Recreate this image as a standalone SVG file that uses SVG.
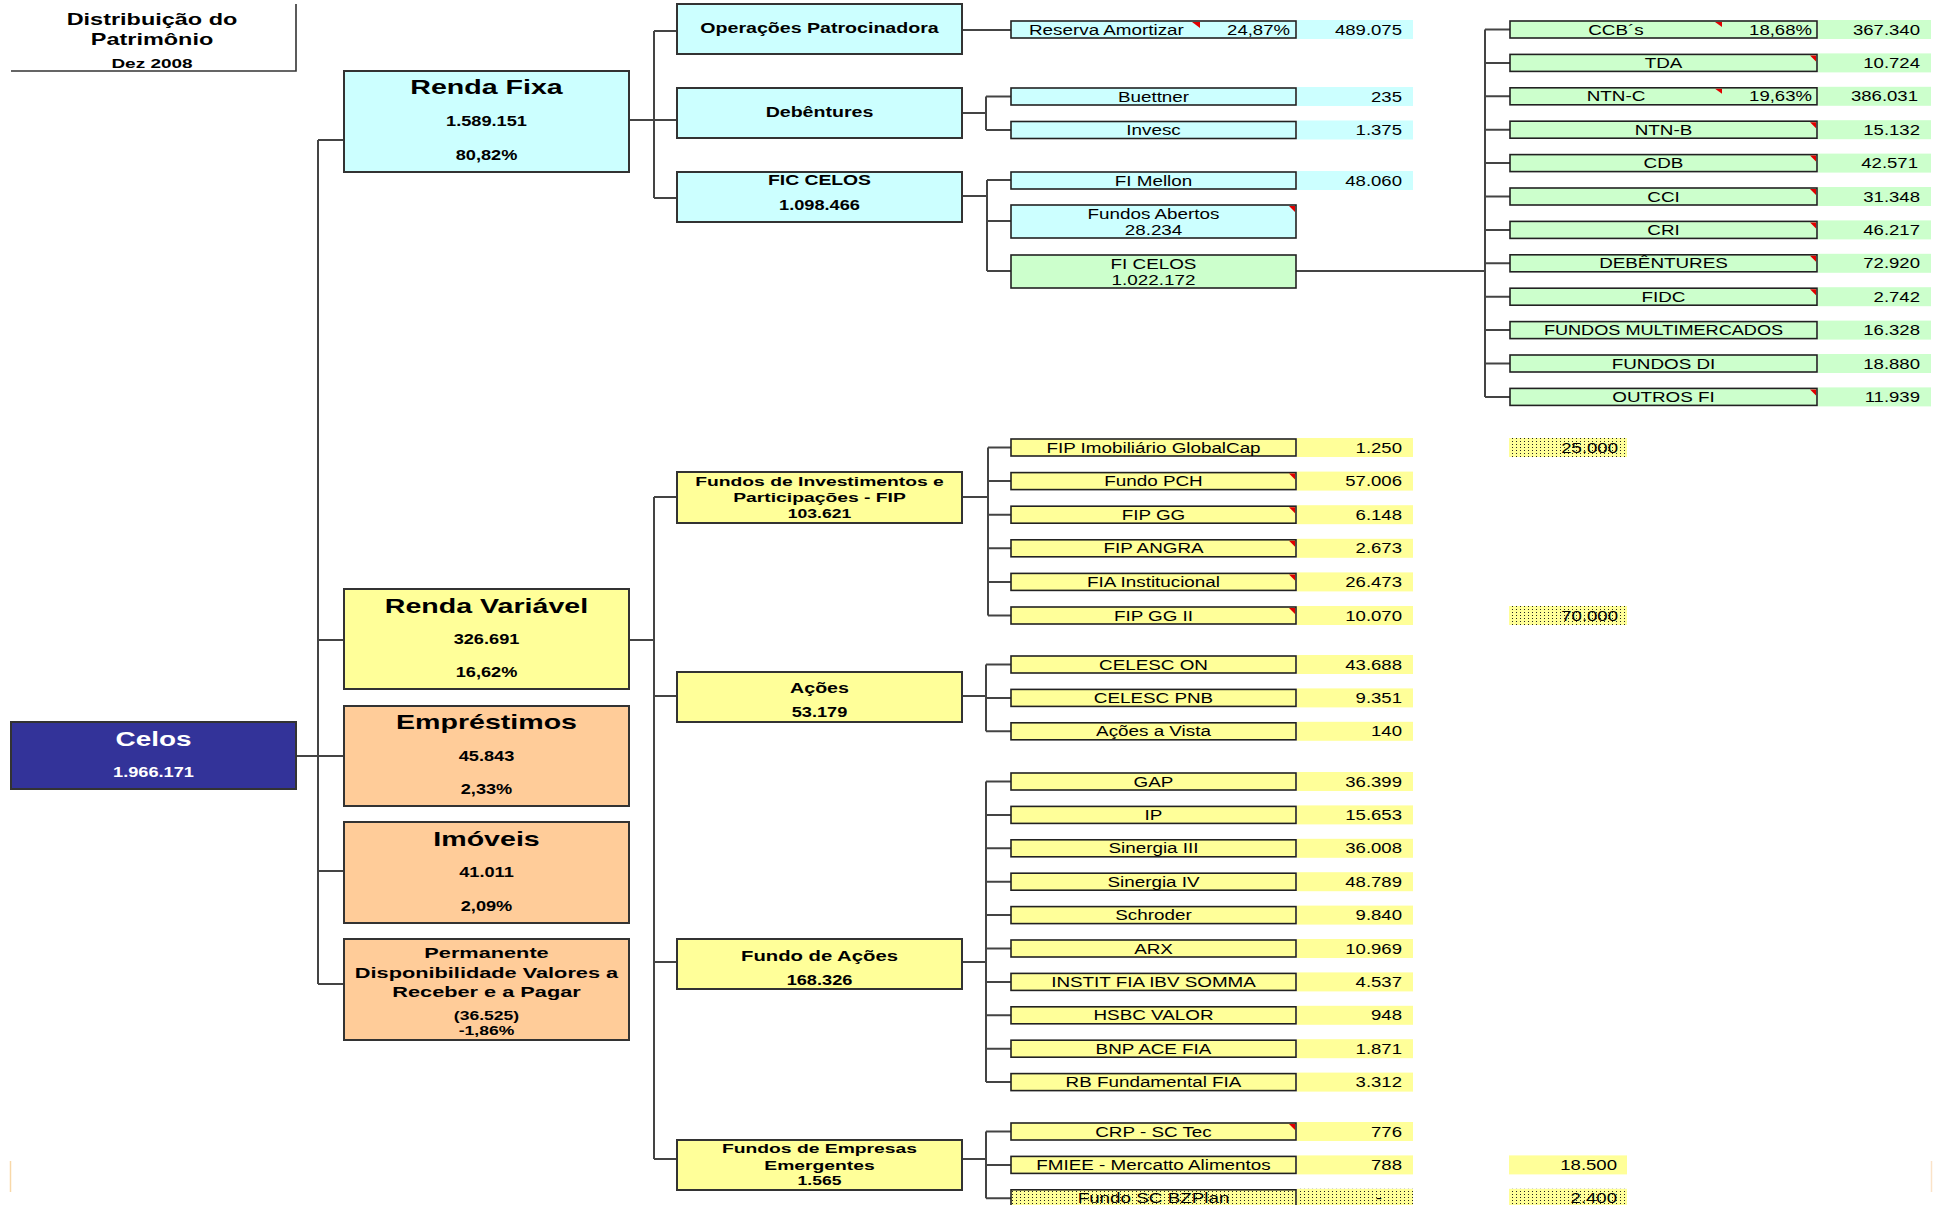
<svg xmlns="http://www.w3.org/2000/svg" width="1943" height="1205" viewBox="0 0 1943 1205">
<defs>
<style>
text{font-family:"Liberation Sans",Arial,sans-serif;fill:#000}
.bx{stroke:#333;stroke-width:2}
.lf{stroke:#222;stroke-width:1.6}
.cy{fill:#CCFFFF}.yl{fill:#FFFF99}.gr{fill:#CCFFCC}.or{fill:#FFCC99}.bl{fill:#333399}.dt{fill:url(#dots)}
.cn{stroke:#444;stroke-width:2;fill:none}
.tri{fill:#E00000}
.h{font-weight:700;font-size:20px;text-anchor:middle}
.m{font-weight:700;font-size:14px;text-anchor:middle}
.ms{font-weight:700;font-size:13.5px;text-anchor:middle}
.n{font-weight:700;font-size:14px;text-anchor:middle}
.t{font-size:14.5px;text-anchor:middle}
.ts{font-size:14.5px;text-anchor:start}
.tv{font-size:14.5px;text-anchor:end}
.w{fill:#fff}
</style>
<pattern id="dots" width="4" height="3" patternUnits="userSpaceOnUse"><rect width="4" height="3" fill="#FFFF99"/><rect width="1" height="1" fill="#222"/></pattern>
</defs>
<rect width="1943" height="1205" fill="#fff"/>

<g id="title">
<path d="M11,71 H296 V4" fill="none" stroke="#333" stroke-width="1.6"/>
<text class="m" style="font-size:16.3px" transform="translate(152,25) scale(1.44,1)">Distribuição do</text>
<text class="m" style="font-size:16.3px" transform="translate(152,45) scale(1.44,1)">Patrimônio</text>
<text class="m" style="font-size:13px" transform="translate(152,68) scale(1.46,1)">Dez 2008</text>
</g>

<g id="connectors" class="cn">
<path d="M318,140 V984 M318,140 H344 M318,640 H344 M296,756 H344 M318,871 H344 M318,984 H344"/>
<path d="M629,120 H654 M654,31 V198 M654,31 H677 M654,120 H677 M654,198 H677"/>
<path d="M962,30 H1011"/>
<path d="M962,113 H986 M986,96.5 V130 M986,96.5 H1011 M986,130 H1011"/>
<path d="M962,196 H987 M987,180 V271 M987,180 H1011 M987,221 H1011 M987,271 H1011"/>
<path d="M1296,271 H1485 M1485,29.5 V396.9 M1485,29.5 H1510 M1485,62.9 H1510 M1485,96.3 H1510 M1485,129.7 H1510 M1485,163.1 H1510 M1485,196.5 H1510 M1485,229.9 H1510 M1485,263.3 H1510 M1485,296.7 H1510 M1485,330.1 H1510 M1485,363.5 H1510 M1485,396.9 H1510"/>
<path d="M629,640 H654 M654,497 V1159 M654,497 H677 M654,696 H677 M654,962 H677 M654,1159 H677"/>
<path d="M962,497 H988 M988,447.5 V615.5 M988,447.5 H1011 M988,481.1 H1011 M988,514.7 H1011 M988,548.3 H1011 M988,581.9 H1011 M988,615.5 H1011"/>
<path d="M962,696 H986 M986,664.5 V731.3 M986,664.5 H1011 M986,697.9 H1011 M986,731.3 H1011"/>
<path d="M962,962 H986 M986,781.5 V1082.1 M986,781.5 H1011 M986,814.9 H1011 M986,848.3 H1011 M986,881.7 H1011 M986,915.1 H1011 M986,948.5 H1011 M986,981.9 H1011 M986,1015.3 H1011 M986,1048.7 H1011 M986,1082.1 H1011"/>
<path d="M962,1159 H986 M986,1131.5 V1198.3 M986,1131.5 H1011 M986,1164.9 H1011 M986,1198.3 H1011"/>
</g>

<g id="celos">
<rect class="bx bl" x="11" y="722" width="285" height="67"/>
<text class="h w" style="font-size:21px" transform="translate(153.5,746) scale(1.33,1)">Celos</text>
<text class="n w" transform="translate(153.5,777) scale(1.3,1)">1.966.171</text>
</g>

<g id="renda-fixa">
<rect class="bx cy" x="344" y="71" width="285" height="101"/>
<text class="h" transform="translate(486.5,94) scale(1.43,1)">Renda Fixa</text>
<text class="n" transform="translate(486.5,126) scale(1.3,1)">1.589.151</text>
<text class="n" transform="translate(486.5,160) scale(1.3,1)">80,82%</text>
</g>
<g id="renda-variavel">
<rect class="bx yl" x="344" y="589" width="285" height="100"/>
<text class="h" transform="translate(486.5,613) scale(1.43,1)">Renda Variável</text>
<text class="n" transform="translate(486.5,644) scale(1.3,1)">326.691</text>
<text class="n" transform="translate(486.5,677) scale(1.3,1)">16,62%</text>
</g>
<g id="emprestimos">
<rect class="bx or" x="344" y="706" width="285" height="100"/>
<text class="h" transform="translate(486.5,729) scale(1.43,1)">Empréstimos</text>
<text class="n" transform="translate(486.5,761) scale(1.3,1)">45.843</text>
<text class="n" transform="translate(486.5,794) scale(1.3,1)">2,33%</text>
</g>
<g id="imoveis">
<rect class="bx or" x="344" y="822" width="285" height="101"/>
<text class="h" transform="translate(486.5,846) scale(1.43,1)">Imóveis</text>
<text class="n" transform="translate(486.5,877) scale(1.3,1)">41.011</text>
<text class="n" transform="translate(486.5,911) scale(1.3,1)">2,09%</text>
</g>
<g id="permanente">
<rect class="bx or" x="344" y="939" width="285" height="101"/>
<text class="m" style="font-size:14.5px" transform="translate(486.5,958) scale(1.5,1)">Permanente</text>
<text class="m" style="font-size:14.5px" transform="translate(486.5,978) scale(1.5,1)">Disponibilidade Valores a</text>
<text class="m" style="font-size:14.5px" transform="translate(486.5,997) scale(1.5,1)">Receber e a Pagar</text>
<text class="n" style="font-size:13.5px" transform="translate(486.5,1020) scale(1.3,1)">(36.525)</text>
<text class="n" style="font-size:13.5px" transform="translate(486.5,1035) scale(1.3,1)">-1,86%</text>
</g>

<g id="operacoes-patrocinadora">
<rect class="bx cy" x="677" y="4" width="285" height="50"/>
<text class="m" transform="translate(819.5,33) scale(1.4,1)">Operações Patrocinadora</text>
</g>
<g id="debentures">
<rect class="bx cy" x="677" y="88" width="285" height="50"/>
<text class="m" transform="translate(819.5,117) scale(1.4,1)">Debêntures</text>
</g>
<g id="fic-celos">
<rect class="bx cy" x="677" y="172" width="285" height="50"/>
<text class="m" transform="translate(819.5,185) scale(1.38,1)">FIC CELOS</text>
<text class="n" transform="translate(819.5,210) scale(1.3,1)">1.098.466</text>
</g>
<g id="fip">
<rect class="bx yl" x="677" y="472" width="285" height="51"/>
<text class="ms" transform="translate(819.5,486) scale(1.43,1)">Fundos de Investimentos e</text>
<text class="ms" transform="translate(819.5,502) scale(1.43,1)">Participações - FIP</text>
<text class="ms" transform="translate(819.5,518) scale(1.3,1)">103.621</text>
</g>
<g id="acoes">
<rect class="bx yl" x="677" y="672" width="285" height="50"/>
<text class="m" transform="translate(819.5,693) scale(1.4,1)">Ações</text>
<text class="n" transform="translate(819.5,717) scale(1.3,1)">53.179</text>
</g>
<g id="fundo-de-acoes">
<rect class="bx yl" x="677" y="939" width="285" height="50"/>
<text class="m" transform="translate(819.5,961) scale(1.45,1)">Fundo de Ações</text>
<text class="n" transform="translate(819.5,985) scale(1.3,1)">168.326</text>
</g>
<g id="fundos-emergentes">
<rect class="bx yl" x="677" y="1140" width="285" height="50"/>
<text class="ms" transform="translate(819.5,1153) scale(1.43,1)">Fundos de Empresas</text>
<text class="ms" transform="translate(819.5,1170) scale(1.43,1)">Emergentes</text>
<text class="ms" transform="translate(819.5,1185) scale(1.3,1)">1.565</text>
</g>

<!-- Renda Fixa leaves -->
<g id="reserva-amortizar">
<rect class="lf cy" x="1011" y="21" width="285" height="17"/>
<polygon class="tri" points="1192,22 1200,22 1200,28"/>
<text class="ts" transform="translate(1029,34.5) scale(1.3,1)">Reserva Amortizar</text>
<text class="tv" transform="translate(1290,34.5) scale(1.28,1)">24,87%</text>
<rect class="cy" x="1297" y="20" width="116" height="19"/>
<text class="tv" transform="translate(1402,34.5) scale(1.28,1)">489.075</text>
</g>
<g id="buettner">
<rect class="lf cy" x="1011" y="88" width="285" height="17"/>
<text class="t" transform="translate(1153.5,101.5) scale(1.3,1)">Buettner</text>
<rect class="cy" x="1297" y="87" width="116" height="19"/>
<text class="tv" transform="translate(1402,101.5) scale(1.28,1)">235</text>
</g>
<g id="invesc">
<rect class="lf cy" x="1011" y="121.5" width="285" height="17"/>
<text class="t" transform="translate(1153.5,135) scale(1.3,1)">Invesc</text>
<rect class="cy" x="1297" y="120.5" width="116" height="19"/>
<text class="tv" transform="translate(1402,135) scale(1.28,1)">1.375</text>
</g>
<g id="fi-mellon">
<rect class="lf cy" x="1011" y="172" width="285" height="17"/>
<text class="t" transform="translate(1153.5,185.5) scale(1.3,1)">FI Mellon</text>
<rect class="cy" x="1297" y="171" width="116" height="19"/>
<text class="tv" transform="translate(1402,185.5) scale(1.28,1)">48.060</text>
</g>
<g id="fundos-abertos">
<rect class="lf cy" x="1011" y="205" width="285" height="33"/>
<polygon class="tri" points="1289,206 1295,206 1295,212"/>
<text class="t" transform="translate(1153.5,218.5) scale(1.3,1)">Fundos Abertos</text>
<text class="t" transform="translate(1153.5,235) scale(1.3,1)">28.234</text>
</g>
<g id="fi-celos">
<rect class="lf gr" x="1011" y="255" width="285" height="33"/>
<text class="t" transform="translate(1153.5,268.5) scale(1.3,1)">FI CELOS</text>
<text class="t" transform="translate(1153.5,285) scale(1.3,1)">1.022.172</text>
</g>

<!-- FI CELOS leaves -->
<g id="ccbs">
<rect class="lf gr" x="1510" y="21" width="307" height="17"/>
<polygon class="tri" points="1715,22 1722,22 1722,27"/>
<text class="t" transform="translate(1616,34.5) scale(1.3,1)">CCB´s</text>
<text class="tv" transform="translate(1812,34.5) scale(1.28,1)">18,68%</text>
<rect class="gr" x="1818" y="20" width="113" height="19"/>
<text class="tv" transform="translate(1920,34.5) scale(1.28,1)">367.340</text>
</g>
<g id="tda">
<rect class="lf gr" x="1510" y="54.4" width="307" height="17"/>
<polygon class="tri" points="1810,55.4 1816,55.4 1816,61.4"/>
<text class="t" transform="translate(1663.5,67.9) scale(1.3,1)">TDA</text>
<rect class="gr" x="1818" y="53.4" width="113" height="19"/>
<text class="tv" transform="translate(1920,67.9) scale(1.28,1)">10.724</text>
</g>
<g id="ntn-c">
<rect class="lf gr" x="1510" y="87.8" width="307" height="17"/>
<polygon class="tri" points="1715,88.8 1722,88.8 1722,93.8"/>
<text class="t" transform="translate(1616,101.3) scale(1.3,1)">NTN-C</text>
<text class="tv" transform="translate(1812,101.3) scale(1.28,1)">19,63%</text>
<rect class="gr" x="1818" y="86.8" width="113" height="19"/>
<text class="tv" transform="translate(1918,101.3) scale(1.28,1)">386.031</text>
</g>
<g id="ntn-b">
<rect class="lf gr" x="1510" y="121.2" width="307" height="17"/>
<polygon class="tri" points="1810,122.2 1816,122.2 1816,128.2"/>
<text class="t" transform="translate(1663.5,134.7) scale(1.3,1)">NTN-B</text>
<rect class="gr" x="1818" y="120.2" width="113" height="19"/>
<text class="tv" transform="translate(1920,134.7) scale(1.28,1)">15.132</text>
</g>
<g id="cdb">
<rect class="lf gr" x="1510" y="154.6" width="307" height="17"/>
<polygon class="tri" points="1810,155.6 1816,155.6 1816,161.6"/>
<text class="t" transform="translate(1663.5,168.1) scale(1.3,1)">CDB</text>
<rect class="gr" x="1818" y="153.6" width="113" height="19"/>
<text class="tv" transform="translate(1918,168.1) scale(1.28,1)">42.571</text>
</g>
<g id="cci">
<rect class="lf gr" x="1510" y="188" width="307" height="17"/>
<polygon class="tri" points="1810,189 1816,189 1816,195"/>
<text class="t" transform="translate(1663.5,201.5) scale(1.3,1)">CCI</text>
<rect class="gr" x="1818" y="187" width="113" height="19"/>
<text class="tv" transform="translate(1920,201.5) scale(1.28,1)">31.348</text>
</g>
<g id="cri">
<rect class="lf gr" x="1510" y="221.4" width="307" height="17"/>
<polygon class="tri" points="1810,222.4 1816,222.4 1816,228.4"/>
<text class="t" transform="translate(1663.5,234.9) scale(1.3,1)">CRI</text>
<rect class="gr" x="1818" y="220.4" width="113" height="19"/>
<text class="tv" transform="translate(1920,234.9) scale(1.28,1)">46.217</text>
</g>
<g id="debentures-fi">
<rect class="lf gr" x="1510" y="254.8" width="307" height="17"/>
<polygon class="tri" points="1810,255.8 1816,255.8 1816,261.8"/>
<text class="t" transform="translate(1663.5,268.3) scale(1.3,1)">DEBÊNTURES</text>
<rect class="gr" x="1818" y="253.8" width="113" height="19"/>
<text class="tv" transform="translate(1920,268.3) scale(1.28,1)">72.920</text>
</g>
<g id="fidc">
<rect class="lf gr" x="1510" y="288.2" width="307" height="17"/>
<polygon class="tri" points="1810,289.2 1816,289.2 1816,295.2"/>
<text class="t" transform="translate(1663.5,301.7) scale(1.3,1)">FIDC</text>
<rect class="gr" x="1818" y="287.2" width="113" height="19"/>
<text class="tv" transform="translate(1920,301.7) scale(1.28,1)">2.742</text>
</g>
<g id="fundos-multimercados">
<rect class="lf gr" x="1510" y="321.6" width="307" height="17"/>
<text class="t" transform="translate(1663.5,335.1) scale(1.25,1)">FUNDOS MULTIMERCADOS</text>
<rect class="gr" x="1818" y="320.6" width="113" height="19"/>
<text class="tv" transform="translate(1920,335.1) scale(1.28,1)">16.328</text>
</g>
<g id="fundos-di">
<rect class="lf gr" x="1510" y="355" width="307" height="17"/>
<text class="t" transform="translate(1663.5,368.5) scale(1.3,1)">FUNDOS DI</text>
<rect class="gr" x="1818" y="354" width="113" height="19"/>
<text class="tv" transform="translate(1920,368.5) scale(1.28,1)">18.880</text>
</g>
<g id="outros-fi">
<rect class="lf gr" x="1510" y="388.4" width="307" height="17"/>
<polygon class="tri" points="1810,389.4 1816,389.4 1816,395.4"/>
<text class="t" transform="translate(1663.5,401.9) scale(1.3,1)">OUTROS FI</text>
<rect class="gr" x="1818" y="387.4" width="113" height="19"/>
<text class="tv" transform="translate(1920,401.9) scale(1.28,1)">11.939</text>
</g>

<!-- FIP leaves -->
<g id="fip-imobiliario">
<rect class="lf yl" x="1011" y="439" width="285" height="17"/>
<text class="t" transform="translate(1153.5,452.5) scale(1.3,1)">FIP Imobiliário GlobalCap</text>
<rect class="yl" x="1297" y="438" width="116" height="19"/>
<text class="tv" transform="translate(1402,452.5) scale(1.28,1)">1.250</text>
<rect class="dt" x="1509" y="438" width="118" height="19"/>
<text class="tv" transform="translate(1618,452.5) scale(1.28,1)">25.000</text>
</g>
<g id="fundo-pch">
<rect class="lf yl" x="1011" y="472.6" width="285" height="17"/>
<polygon class="tri" points="1289,473.6 1295,473.6 1295,479.6"/>
<text class="t" transform="translate(1153.5,486.1) scale(1.3,1)">Fundo PCH</text>
<rect class="yl" x="1297" y="471.6" width="116" height="19"/>
<text class="tv" transform="translate(1402,486.1) scale(1.28,1)">57.006</text>
</g>
<g id="fip-gg">
<rect class="lf yl" x="1011" y="506.2" width="285" height="17"/>
<polygon class="tri" points="1289,507.2 1295,507.2 1295,513.2"/>
<text class="t" transform="translate(1153.5,519.7) scale(1.3,1)">FIP GG</text>
<rect class="yl" x="1297" y="505.2" width="116" height="19"/>
<text class="tv" transform="translate(1402,519.7) scale(1.28,1)">6.148</text>
</g>
<g id="fip-angra">
<rect class="lf yl" x="1011" y="539.8" width="285" height="17"/>
<polygon class="tri" points="1289,540.8 1295,540.8 1295,546.8"/>
<text class="t" transform="translate(1153.5,553.3) scale(1.3,1)">FIP ANGRA</text>
<rect class="yl" x="1297" y="538.8" width="116" height="19"/>
<text class="tv" transform="translate(1402,553.3) scale(1.28,1)">2.673</text>
</g>
<g id="fia-institucional">
<rect class="lf yl" x="1011" y="573.4" width="285" height="17"/>
<polygon class="tri" points="1289,574.4 1295,574.4 1295,580.4"/>
<text class="t" transform="translate(1153.5,586.9) scale(1.3,1)">FIA Institucional</text>
<rect class="yl" x="1297" y="572.4" width="116" height="19"/>
<text class="tv" transform="translate(1402,586.9) scale(1.28,1)">26.473</text>
</g>
<g id="fip-gg-ii">
<rect class="lf yl" x="1011" y="607" width="285" height="17"/>
<polygon class="tri" points="1289,608 1295,608 1295,614"/>
<text class="t" transform="translate(1153.5,620.5) scale(1.3,1)">FIP GG II</text>
<rect class="yl" x="1297" y="606" width="116" height="19"/>
<text class="tv" transform="translate(1402,620.5) scale(1.28,1)">10.070</text>
<rect class="dt" x="1509" y="606" width="118" height="19"/>
<text class="tv" transform="translate(1618,620.5) scale(1.28,1)">70.000</text>
</g>

<!-- Ações leaves -->
<g id="celesc-on">
<rect class="lf yl" x="1011" y="656" width="285" height="17"/>
<text class="t" transform="translate(1153.5,669.5) scale(1.3,1)">CELESC ON</text>
<rect class="yl" x="1297" y="655" width="116" height="19"/>
<text class="tv" transform="translate(1402,669.5) scale(1.28,1)">43.688</text>
</g>
<g id="celesc-pnb">
<rect class="lf yl" x="1011" y="689.4" width="285" height="17"/>
<text class="t" transform="translate(1153.5,702.9) scale(1.3,1)">CELESC PNB</text>
<rect class="yl" x="1297" y="688.4" width="116" height="19"/>
<text class="tv" transform="translate(1402,702.9) scale(1.28,1)">9.351</text>
</g>
<g id="acoes-a-vista">
<rect class="lf yl" x="1011" y="722.8" width="285" height="17"/>
<text class="t" transform="translate(1153.5,736.3) scale(1.3,1)">Ações a Vista</text>
<rect class="yl" x="1297" y="721.8" width="116" height="19"/>
<text class="tv" transform="translate(1402,736.3) scale(1.28,1)">140</text>
</g>

<!-- Fundo de Ações leaves -->
<g id="gap">
<rect class="lf yl" x="1011" y="773" width="285" height="17"/>
<text class="t" transform="translate(1153.5,786.5) scale(1.3,1)">GAP</text>
<rect class="yl" x="1297" y="772" width="116" height="19"/>
<text class="tv" transform="translate(1402,786.5) scale(1.28,1)">36.399</text>
</g>
<g id="ip">
<rect class="lf yl" x="1011" y="806.4" width="285" height="17"/>
<text class="t" transform="translate(1153.5,819.9) scale(1.3,1)">IP</text>
<rect class="yl" x="1297" y="805.4" width="116" height="19"/>
<text class="tv" transform="translate(1402,819.9) scale(1.28,1)">15.653</text>
</g>
<g id="sinergia-iii">
<rect class="lf yl" x="1011" y="839.8" width="285" height="17"/>
<text class="t" transform="translate(1153.5,853.3) scale(1.3,1)">Sinergia III</text>
<rect class="yl" x="1297" y="838.8" width="116" height="19"/>
<text class="tv" transform="translate(1402,853.3) scale(1.28,1)">36.008</text>
</g>
<g id="sinergia-iv">
<rect class="lf yl" x="1011" y="873.2" width="285" height="17"/>
<text class="t" transform="translate(1153.5,886.7) scale(1.3,1)">Sinergia IV</text>
<rect class="yl" x="1297" y="872.2" width="116" height="19"/>
<text class="tv" transform="translate(1402,886.7) scale(1.28,1)">48.789</text>
</g>
<g id="schroder">
<rect class="lf yl" x="1011" y="906.6" width="285" height="17"/>
<text class="t" transform="translate(1153.5,920.1) scale(1.3,1)">Schroder</text>
<rect class="yl" x="1297" y="905.6" width="116" height="19"/>
<text class="tv" transform="translate(1402,920.1) scale(1.28,1)">9.840</text>
</g>
<g id="arx">
<rect class="lf yl" x="1011" y="940" width="285" height="17"/>
<text class="t" transform="translate(1153.5,953.5) scale(1.3,1)">ARX</text>
<rect class="yl" x="1297" y="939" width="116" height="19"/>
<text class="tv" transform="translate(1402,953.5) scale(1.28,1)">10.969</text>
</g>
<g id="instit-fia">
<rect class="lf yl" x="1011" y="973.4" width="285" height="17"/>
<text class="t" transform="translate(1153.5,986.9) scale(1.3,1)">INSTIT FIA IBV SOMMA</text>
<rect class="yl" x="1297" y="972.4" width="116" height="19"/>
<text class="tv" transform="translate(1402,986.9) scale(1.28,1)">4.537</text>
</g>
<g id="hsbc-valor">
<rect class="lf yl" x="1011" y="1006.8" width="285" height="17"/>
<text class="t" transform="translate(1153.5,1020.3) scale(1.3,1)">HSBC VALOR</text>
<rect class="yl" x="1297" y="1005.8" width="116" height="19"/>
<text class="tv" transform="translate(1402,1020.3) scale(1.28,1)">948</text>
</g>
<g id="bnp-ace">
<rect class="lf yl" x="1011" y="1040.2" width="285" height="17"/>
<text class="t" transform="translate(1153.5,1053.7) scale(1.3,1)">BNP ACE FIA</text>
<rect class="yl" x="1297" y="1039.2" width="116" height="19"/>
<text class="tv" transform="translate(1402,1053.7) scale(1.28,1)">1.871</text>
</g>
<g id="rb-fundamental">
<rect class="lf yl" x="1011" y="1073.6" width="285" height="17"/>
<text class="t" transform="translate(1153.5,1087.1) scale(1.3,1)">RB Fundamental FIA</text>
<rect class="yl" x="1297" y="1072.6" width="116" height="19"/>
<text class="tv" transform="translate(1402,1087.1) scale(1.28,1)">3.312</text>
</g>

<!-- Emergentes leaves -->
<g id="crp-sc-tec">
<rect class="lf yl" x="1011" y="1123" width="285" height="17"/>
<polygon class="tri" points="1289,1124 1295,1124 1295,1130"/>
<text class="t" transform="translate(1153.5,1136.5) scale(1.3,1)">CRP - SC Tec</text>
<rect class="yl" x="1297" y="1122" width="116" height="19"/>
<text class="tv" transform="translate(1402,1136.5) scale(1.28,1)">776</text>
</g>
<g id="fmiee-mercatto">
<rect class="lf yl" x="1011" y="1156.4" width="285" height="17"/>
<text class="t" transform="translate(1153.5,1169.9) scale(1.3,1)">FMIEE - Mercatto Alimentos</text>
<rect class="yl" x="1297" y="1155.4" width="116" height="19"/>
<text class="tv" transform="translate(1402,1169.9) scale(1.28,1)">788</text>
<rect class="yl" x="1509" y="1155.4" width="118" height="19"/>
<text class="tv" transform="translate(1617,1169.9) scale(1.28,1)">18.500</text>
</g>
<g id="fundo-sc-bzplan">
<rect class="lf dt" x="1011" y="1189.8" width="285" height="17"/>
<text class="t" transform="translate(1153.5,1203.3) scale(1.3,1)">Fundo SC BZPlan</text>
<rect class="dt" x="1297" y="1188.8" width="116" height="19"/>
<text class="tv" transform="translate(1382,1203.3) scale(1.28,1)">-</text>
<rect class="dt" x="1509" y="1188.8" width="118" height="19"/>
<text class="tv" transform="translate(1617,1203.3) scale(1.28,1)">2.400</text>
</g>

<g id="edge-marks">
<line x1="10.5" y1="1161" x2="10.5" y2="1192" stroke="#F8D8A8" stroke-width="1.5"/>
<line x1="1931.5" y1="1161" x2="1931.5" y2="1192" stroke="#FBE3C8" stroke-width="1.5"/>
</g>
</svg>
